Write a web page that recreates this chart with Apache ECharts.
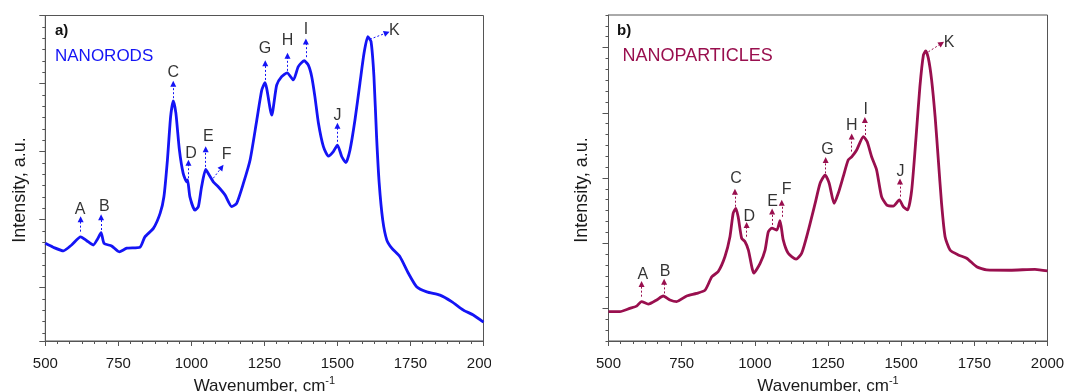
<!DOCTYPE html>
<html>
<head>
<meta charset="utf-8">
<script src="https://cdn.jsdelivr.net/npm/echarts@6/dist/echarts.min.js"></script>
<style>
html,body{margin:0;padding:0;background:#fff;width:1071px;height:392px;overflow:hidden;}
#pa{position:absolute;left:0;top:0;width:491px;height:392px;overflow:hidden;}
#pb{position:absolute;left:491px;top:0;width:580px;height:392px;}
</style>
</head>
<body>
<div id="pa"></div>
<div id="pb"></div>
<script>
// ---- x-axis ticks (wavenumber, cm-1)
const xTicks = [500, 750, 1000, 1250, 1500, 1750, 2000];

// ---- (a) NANORODS spectrum (intensity in a.u., 0 = frame bottom, 100 = frame top)
const rodWave = [500,527,562,590,621,642,664,678,691,701,727,753,779,824,841,870,893,906,918,929,
  938,947,959,972,984,987,995,1012,1024,1035,1049,1061,1075,1092,1115,1138,1155,1178,1201,1224,
  1241,1252,1275,1292,1309,1328,1349,1366,1386,1400,1412,1423,1435,1452,1469,1486,1500,1515,1529,1543,
  1560,1577,1591,1604,1615,1625,1634,1643,1655,1669,1686,1714,1743,1771,1806,1851,1891,1931,1965,2000];
const rodInt = [30.0,28.8,27.7,29.5,32.0,30.8,29.5,31.2,33.3,30.0,29.2,27.4,28.5,28.8,32.0,34.6,39.2,44.3,55.6,68.9,
  73.8,70.0,58.7,51.5,48.9,49.5,44.3,40.2,41.3,47.4,52.7,51.0,48.9,47.4,44.9,41.3,42.3,48.4,55.6,67.9,
  77.1,79.4,69.4,78.6,81.2,82.4,80.2,84.3,86.1,84.8,81.2,75.0,66.9,59.7,56.8,58.2,60.2,56.6,54.8,58.7,
  67.9,79.2,88.4,93.5,92.0,81.2,62.8,48.4,37.2,31.0,28.5,25.9,20.8,16.7,15.1,14.1,12.1,9.5,8.0,5.8];

// ---- (b) NANOPARTICLES spectrum
const partWave = [500,539,573,596,613,636,665,687,710,733,767,801,830,853,875,898,915,926,935,943,
  955,966,978,997,1018,1035,1046,1058,1075,1086,1097,1114,1141,1160,1183,1206,1223,1240,1254,1271,
  1285,1302,1319,1331,1348,1371,1384,1399,1416,1433,1451,1473,1494,1507,1522,1536,1551,1564,1576,1584,
  1593,1604,1616,1627,1638,1650,1667,1695,1724,1758,1792,1872,1957,2000];
const partInt = [9.0,9.0,10.0,10.7,12.1,11.3,12.6,13.8,12.6,12.1,13.8,14.6,15.6,19.7,21.3,25.9,32.0,39.2,40.7,38.1,
  31.5,30.5,27.9,20.8,23.8,27.9,33.5,34.6,34.0,36.9,31.0,26.9,25.1,26.9,34.0,42.2,48.4,50.9,48.4,42.2,
  45.3,50.4,55.5,56.5,58.6,62.7,61.1,56.5,52.5,44.3,41.7,41.4,43.3,41.2,40.2,46.3,62.7,78.0,87.7,89.0,
  86.7,80.1,68.8,55.5,42.2,32.0,27.9,26.4,25.4,22.8,21.8,21.7,22.0,21.5];

// ---- peak annotations
const peakNames = ['A','B','C','D','E','F','G','H','I','J','K'];
const rodLabelX = [619,702,938,999,1058,1121,1252,1329,1392,1500,1695];
const rodLabelY = [40.5,41.3,82.4,57.7,62.8,57.4,89.9,92.3,95.7,69.4,95.3];
const rodArrowFrom = [[621,33.6],[691,34.1],[938,74.6],[990,50.0],[1049,53.5],[1075,50.0],[1253,80.2],[1329,83.0],[1392,87.2],[1500,61.2],[1611,92.7]];
const rodArrowTo   = [[621,37.4],[691,38.0],[938,79.0],[990,54.8],[1049,58.9],[1104,53.4],[1253,85.3],[1329,87.6],[1392,92.0],[1500,66.1],[1669,94.7]];

const partLabelX = [617,693,936,981,1061,1109,1248,1331,1379,1498,1664];
const partLabelY = [20.5,21.3,49.9,38.1,42.7,46.5,58.8,66.0,71.1,51.9,91.6];
const partArrowFrom = [[613,13.6],[690,14.6],[932,41.2],[972,32.0],[1059,35.6],[1092,38.1],[1242,51.4],[1331,58.1],[1376,63.2],[1496,44.3],[1593,88.7]];
const partArrowTo   = [[613,17.5],[690,18.2],[932,45.8],[972,35.6],[1059,39.7],[1092,42.4],[1242,55.5],[1331,62.7],[1376,67.8],[1496,48.9],[1638,91.3]];

const FONT = "'Liberation Sans', Arial, Helvetica, sans-serif";
const AX = '#555';
const TXT = '#1a1a1a';

function xAxisCfg() {
  return {
    type: 'value', min: xTicks[0], max: xTicks[xTicks.length - 1], interval: xTicks[1] - xTicks[0],
    axisLine: { show: true, onZero: false, lineStyle: { color: AX, width: 1 } },
    axisTick: { show: true, length: 5, lineStyle: { color: AX } },
    minorTick: { show: true, splitNumber: 6, length: 3, lineStyle: { color: AX } },
    splitLine: { show: false }, minorSplitLine: { show: false },
    axisLabel: { fontSize: 15, color: TXT, margin: 15, fontFamily: FONT, formatter: v => String(v) },
    name: 'Wavenumber, cm{s|-1}', nameLocation: 'middle', nameGap: 33,
    nameTextStyle: { fontSize: 17, color: TXT, fontFamily: FONT, lineHeight: 20,
      rich: { s: { fontSize: 11, fontFamily: FONT, color: TXT, verticalAlign: 'top', lineHeight: 12 } } }
  };
}

function seriesCfg(wave, inten, color, lx, ly, from, to) {
  return [
    {
      type: 'line', xAxisIndex: 0, yAxisIndex: 0,
      data: wave.map((w, i) => [w, inten[i]]),
      showSymbol: false, symbol: 'none', smooth: 0.2,
      lineStyle: { color: color, width: 2.8 },
      silent: true,
      markLine: {
        silent: true, animation: false,
        symbol: ['none', 'triangle'], symbolSize: 6,
        label: { show: false },
        lineStyle: { color: color, width: 1, type: [2, 2] },
        emphasis: { disabled: true },
        data: from.map((f, i) => [{ coord: f }, { coord: to[i] }])
      }
    },
    {
      type: 'scatter', xAxisIndex: 0, yAxisIndex: 0, symbolSize: 0, silent: true,
      data: peakNames.map((n, i) => ({ name: n, value: [lx[i], ly[i]] })),
      label: { show: true, position: 'inside', formatter: '{b}', fontSize: 16, color: '#000', fontFamily: FONT }
    }
  ];
}

const hiddenY = { type: 'value', min: 0, max: 100, show: false, position: 'left' };

// ---------- panel a
const optA = {
  animation: false,
  textStyle: { fontFamily: FONT },
  grid: { left: 45.3, right: 7.5, top: 15.5, bottom: 51, show: true, borderColor: AX, borderWidth: 1,
          outerBoundsMode: 'none', containLabel: false },
  xAxis: xAxisCfg(),
  yAxis: [
    hiddenY,
    { type: 'value', min: 0, max: 28.72, interval: 1, inverse: true, position: 'left',
      axisLine: { show: true, lineStyle: { color: AX } },
      axisTick: { show: true, length: 3, lineStyle: { color: AX } },
      axisLabel: { show: false }, splitLine: { show: false } },
    { type: 'value', min: 0, max: 4.787, interval: 1, inverse: true, position: 'left',
      axisLine: { show: false },
      axisTick: { show: true, length: 6, lineStyle: { color: AX } },
      axisLabel: { show: false }, splitLine: { show: false } }
  ],
  series: seriesCfg(rodWave, rodInt, '#1414f5', rodLabelX, rodLabelY, rodArrowFrom, rodArrowTo),
  graphic: [
    { type: 'text', x: 55, y: 30.5, style: { text: 'a)', fontSize: 15, fontWeight: 'bold', fontFamily: FONT, fill: '#111', align: 'left', verticalAlign: 'middle' } },
    { type: 'text', x: 55, y: 56.5, style: { text: 'NANORODS', fontSize: 17, fontFamily: FONT, fill: '#1414f5', align: 'left', verticalAlign: 'middle' } },
    { type: 'text', x: 20, y: 190, rotation: Math.PI / 2, style: { text: 'Intensity, a.u.', fontSize: 18, fontFamily: FONT, fill: TXT, align: 'center', verticalAlign: 'middle' } }
  ]
};

// ---------- panel b
const optB = {
  animation: false,
  textStyle: { fontFamily: FONT },
  grid: { left: 117.5, right: 23.5, top: 15, bottom: 51, show: true, borderColor: AX, borderWidth: 1,
          outerBoundsMode: 'none', containLabel: false },
  xAxis: xAxisCfg(),
  yAxis: [
    hiddenY,
    { type: 'value', min: 0, max: 30, interval: 1, position: 'left',
      axisLine: { show: true, lineStyle: { color: AX } },
      axisTick: { show: true, length: 3, lineStyle: { color: AX } },
      axisLabel: { show: false }, splitLine: { show: false } },
    { type: 'category', data: ['1', '2', '3', '4', '5'], boundaryGap: true, position: 'left',
      axisLine: { show: false },
      axisTick: { show: true, alignWithLabel: true, interval: 0, length: 6, lineStyle: { color: AX } },
      axisLabel: { show: false }, splitLine: { show: false } }
  ],
  series: seriesCfg(partWave, partInt, '#990f4e', partLabelX, partLabelY, partArrowFrom, partArrowTo),
  graphic: [
    { type: 'text', x: 126, y: 30.5, style: { text: 'b)', fontSize: 15, fontWeight: 'bold', fontFamily: FONT, fill: '#111', align: 'left', verticalAlign: 'middle' } },
    { type: 'text', x: 131.5, y: 56.5, style: { text: 'NANOPARTICLES', fontSize: 18, fontFamily: FONT, fill: '#990f4e', align: 'left', verticalAlign: 'middle' } },
    { type: 'text', x: 91, y: 190, rotation: Math.PI / 2, style: { text: 'Intensity, a.u.', fontSize: 18, fontFamily: FONT, fill: TXT, align: 'center', verticalAlign: 'middle' } }
  ]
};

echarts.init(document.getElementById('pa')).setOption(optA);
echarts.init(document.getElementById('pb')).setOption(optB);
</script>
</body>
</html>
